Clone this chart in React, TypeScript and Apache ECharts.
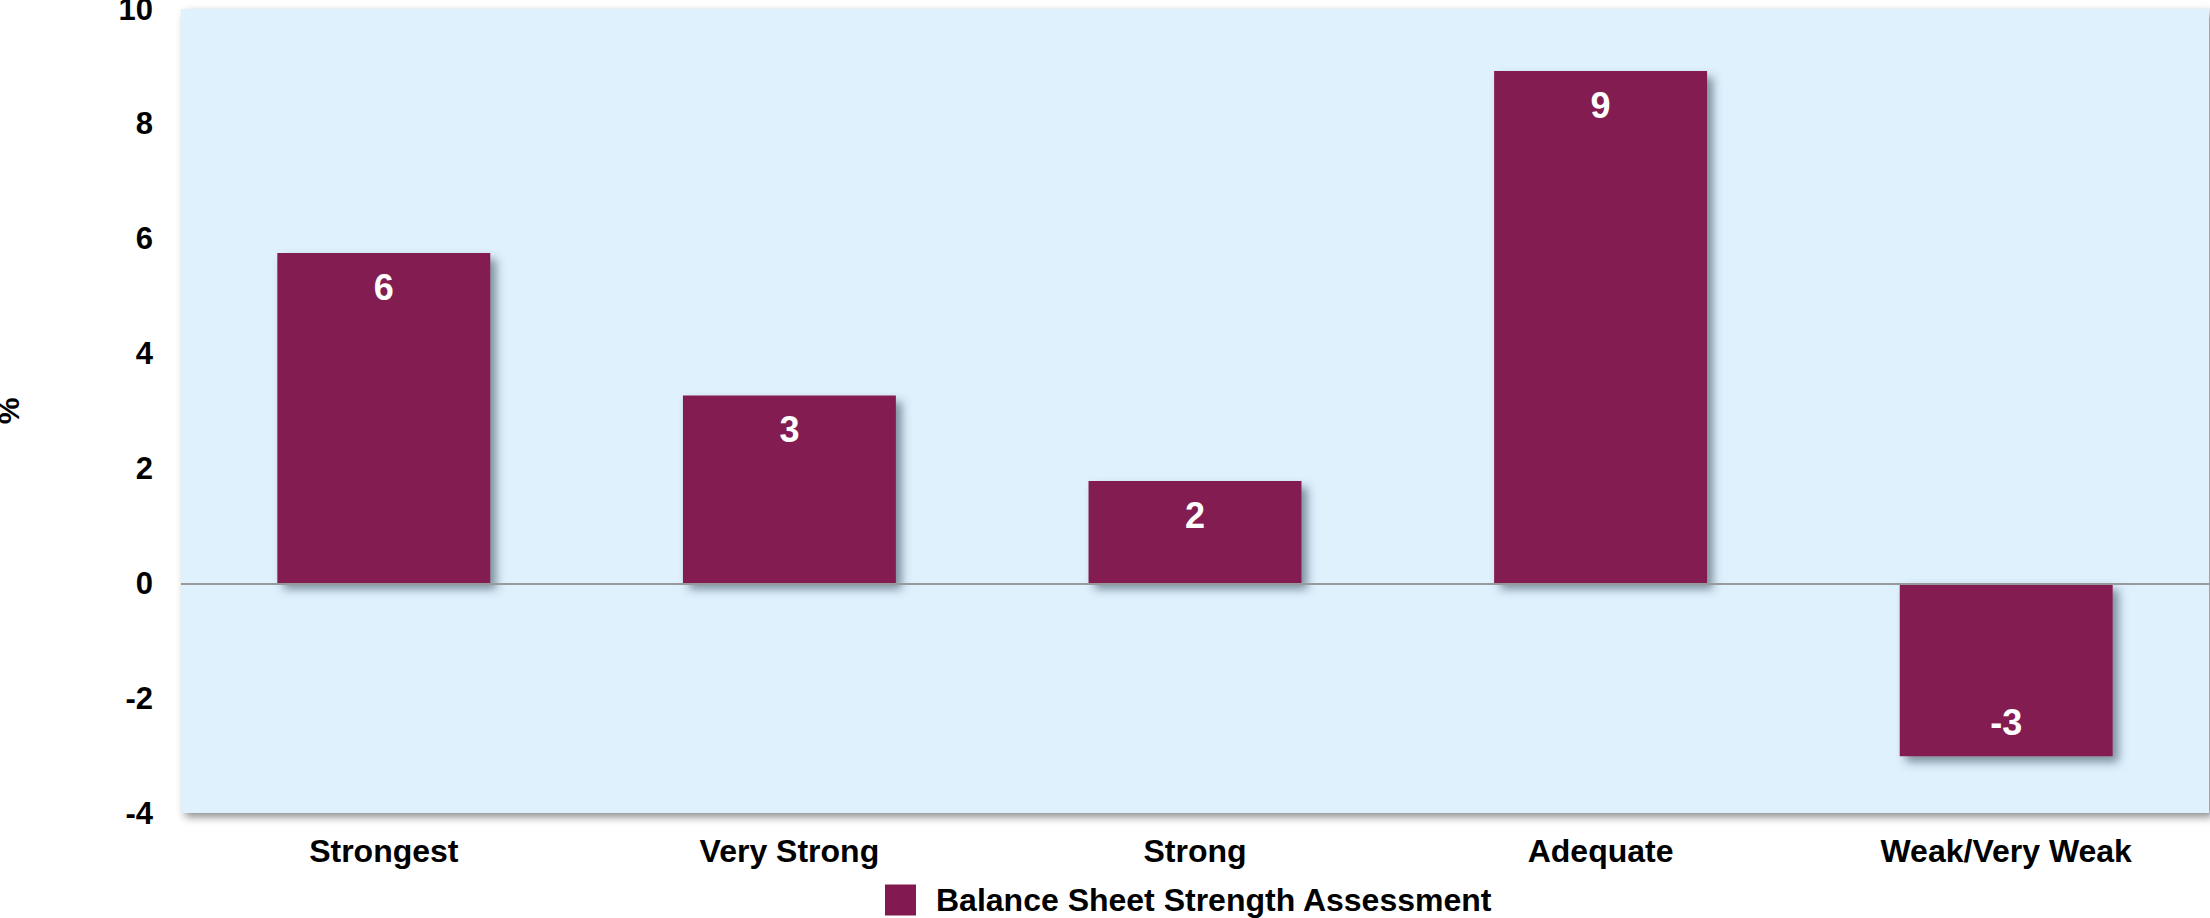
import React, { useEffect, useRef } from "react";
import * as echarts from "echarts";

const categories = ["Strongest", "Very Strong", "Strong", "Adequate", "Weak/Very Weak"];
const values = [5.75, 3.27, 1.78, 8.92, -3.01];
const seriesName = "Balance Sheet Strength Assessment";
const yTicks = { min: -4, max: 10, interval: 2 };
const yName = "%";

const BAR = "#821a51";
const SANS = "'Liberation Sans', Arial, sans-serif";

export default function App() {
  const ref = useRef<HTMLDivElement>(null);
  useEffect(() => {
    if (!ref.current) return;
    const chart = echarts.init(ref.current, undefined, { renderer: "svg" });
    const data = values.map((v) => ({
      value: v,
      label: { position: v >= 0 ? "insideTop" : "insideBottom" },
    }));
    chart.setOption({
      animation: false,
      grid: {
        left: 181,
        top: 9,
        right: 1,
        bottom: 105,
        outerBoundsMode: "none",
        containLabel: false,
        show: true,
        backgroundColor: "#e0f1fe",
        borderWidth: 0,
        shadowBlur: 8,
        shadowColor: "rgba(0,0,0,0.45)",
        shadowOffsetX: 4,
        shadowOffsetY: 4,
      },
      legend: {
        data: [seriesName],
        left: 885,
        top: 884,
        padding: 0,
        icon: "rect",
        itemWidth: 31,
        itemHeight: 31,
        itemGap: 14,
        textStyle: {
          fontFamily: SANS,
          fontWeight: "bold",
          fontSize: 32,
          color: "#000",
          padding: [0, 0, 0, 15],
        },
      },
      xAxis: {
        type: "category",
        data: categories,
        axisLine: { show: false, onZero: false },
        axisTick: { show: false },
        axisLabel: {
          margin: 22,
          color: "#000",
          fontFamily: SANS,
          fontWeight: "bold",
          fontSize: 32,
        },
      },
      yAxis: {
        type: "value",
        min: yTicks.min,
        max: yTicks.max,
        interval: yTicks.interval,
        name: yName,
        nameLocation: "middle",
        nameRotate: 90,
        nameGap: 158,
        nameTextStyle: { fontFamily: SANS, fontWeight: "bold", fontSize: 30, color: "#000" },
        axisLine: { show: false },
        axisTick: { show: false },
        splitLine: { show: false },
        axisLabel: {
          margin: 28,
          color: "#000",
          fontFamily: SANS,
          fontWeight: "bold",
          fontSize: 31,
        },
      },
      series: [
        {
          name: seriesName,
          type: "bar",
          data,
          barWidth: "52.5%",
          itemStyle: {
            color: BAR,
            shadowBlur: 10,
            shadowColor: "rgba(40,60,80,0.55)",
            shadowOffsetX: 6,
            shadowOffsetY: 6,
          },
          label: {
            show: true,
            distance: 16,
            color: "#fff",
            fontFamily: SANS,
            fontWeight: "bold",
            fontSize: 36,
            formatter: (p: any) => String(Math.round(p.value)),
          },
          markLine: {
            silent: true,
            symbol: "none",
            label: { show: false },
            lineStyle: { color: "#999", width: 2, type: "solid" },
            data: [{ yAxis: 0 }],
          },
        },
      ],
    });
    return () => chart.dispose();
  }, []);
  return (
    <div
      ref={ref}
      style={{ position: "absolute", left: 0, top: 0, width: 2210, height: 918 }}
    />
  );
}
